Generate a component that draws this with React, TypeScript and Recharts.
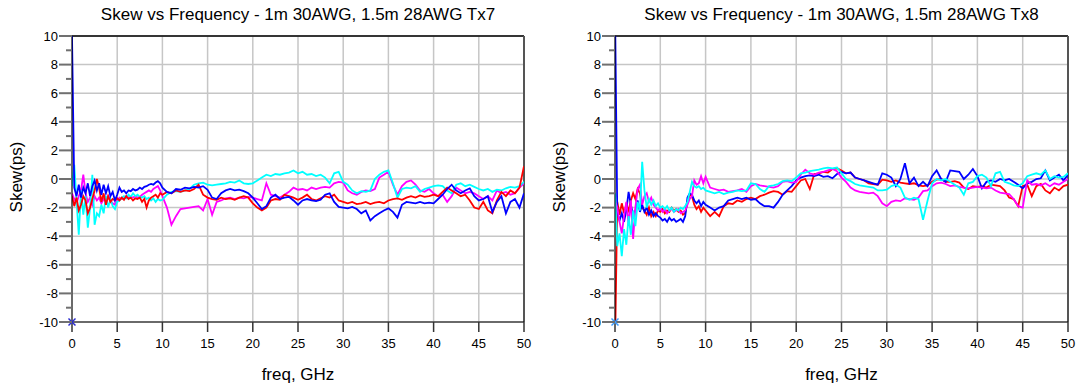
import React from 'react';
import {
  LineChart,
  Line,
  XAxis,
  YAxis,
  CartesianGrid,
  ReferenceLine,
  ReferenceDot,
} from 'recharts';

// frequency points (GHz): 0.25 GHz steps up to 10, then 0.5 GHz steps to 50
const FREQ: number[] = [];
for (let i = 0; i <= 40; i++) FREQ.push(i * 0.25);
for (let i = 1; i <= 80; i++) FREQ.push(10 + i * 0.5);

const X_TICKS = [0, 5, 10, 15, 20, 25, 30, 35, 40, 45, 50];
const Y_GRID = [-10, -8, -6, -4, -2, 0, 2, 4, 6, 8, 10];
const Y_TICKS = [-10, -9, -8, -7, -6, -5, -4, -3, -2, -1, 0, 1, 2, 3, 4, 5, 6, 7, 8, 9, 10];

// ---- Tx7 ----
const RED_TX7 = [
  -1.2, -1.9, -1.3, -2.2, -1.8, -1.2, -1.5, -2.4, -2.0, -1.4,
  -0.8, 0.0, -0.6, -1.6, -1.0, -1.8, -1.2, -1.6, -1.4, -1.5,
  -1.35, -1.5, -1.3, -1.45, -1.2, -1.4, -1.3, -1.5, -1.35, -1.4,
  -1.3, -1.6, -1.4, -2.0, -1.5, -1.3, -1.2, -1.1, -1.3, -1.0,
  -1.1,
  -0.9, -1.0, -0.8, -0.9, -0.8, -0.85, -0.7, -0.4, -1.1, -1.3,
  -1.4, -1.45, -1.3, -1.4, -1.35, -1.45, -1.3, -1.2, -1.3, -1.7,
  -2.0, -2.2, -2.0, -1.5, -1.4, -1.45, -1.1, -1.2, -1.3, -1.45,
  -1.3, -1.1, -1.4, -1.5, -1.35, -1.2, -1.3, -1.1, -1.5, -1.6,
  -1.7, -1.6, -1.75, -1.7, -1.6, -1.75, -1.65, -1.6, -1.7, -1.5,
  -1.4, -1.35, -1.45, -1.3, -1.2, -1.3, -1.15, -1.25, -1.2, -1.1,
  -1.2, -0.9, -0.6, -0.8, -1.0, -1.2, -1.1, -1.5, -2.0, -2.1,
  -1.6, -2.2, -2.4, -1.5, -0.9, -1.2, -0.8, -1.0, -0.6, 0.9,
];
const BLUE_TX7 = [
  10, -0.6, -1.2, -0.4, -1.3, -0.6, -1.0, -0.3, -1.2, -0.5,
  -0.1, -0.8, -0.3, -1.1, -0.4, -1.0, -0.5, -1.2, -0.9, -1.5,
  -1.1, -0.6, -0.9, -0.8, -1.0, -0.8, -0.85, -0.7, -0.8, -0.75,
  -0.6, -0.7, -0.55, -0.5, -0.4, -0.35, -0.4, -0.25, -0.15, -0.3,
  -0.6,
  -0.9, -1.0, -0.7, -0.75, -0.6, -0.65, -0.55, -0.6, -0.5, -0.75,
  -1.3, -1.4, -1.0, -0.8, -0.7, -0.8, -0.75, -0.85, -1.0, -1.3,
  -1.7, -2.1, -1.9, -1.3, -1.1, -1.4, -1.3, -1.25, -1.5, -1.8,
  -1.5, -1.4, -1.5, -1.55, -1.45, -1.1, -1.0, -1.6, -1.95, -2.0,
  -2.05, -1.95, -2.1, -2.4, -2.2, -2.9, -2.6, -2.4, -2.2, -2.05,
  -2.3, -2.7, -1.8, -1.6, -1.65, -1.7, -1.6, -1.7, -1.65, -1.7,
  -1.4, -1.1, -0.7, -0.4, -0.8, -1.0, -0.8, -0.65, -1.2, -1.5,
  -1.4, -1.2, -2.3, -1.6, -1.2, -2.4, -1.6, -1.4, -2.0, -1.0,
];
const MAGENTA_TX7 = [
  -1.0, -1.4, -1.7, -1.2, -0.8, 0.3, -1.0, -1.6, -1.3, -1.8,
  -1.2, -1.5, -1.3, -1.7, -1.4, -1.6, -1.2, -1.5, -1.7, -1.8,
  -1.5, -1.3, -1.4, -1.35, -1.2, -1.3, -1.25, -1.3, -1.2, -1.3,
  -1.25, -1.1, -1.0, -0.9, -0.8, -0.9, -0.7, -0.6, -0.5, -0.8,
  -1.2,
  -2.0, -3.2, -2.6, -2.1, -2.05, -2.0, -1.95, -1.9, -2.2, -1.4,
  -2.5, -1.6, -1.5, -1.35, -1.3, -1.4, -1.3, -1.35, -1.25, -1.3,
  -1.4, -1.5, -0.3, -1.1, -1.2, -1.3, -1.1, -0.9, -0.6, -0.75,
  -0.7, -0.8, -0.6, -0.7, -0.6, -0.55, -0.6, -0.3, -0.2, -0.25,
  -0.8, -1.0, -1.1, -0.9, -0.8, -0.85, -0.7, 0.1, 0.3, 0.5,
  -0.4, -1.1, -0.5, -0.2, -0.1, -0.4, -0.8, -0.9, -0.7, -1.0,
  -1.2, -1.1, -1.6, -1.2, -0.6, -0.8, -1.0, -0.9, -1.0, -1.2,
  -1.4, -1.2, -1.5, -0.8, -1.0, -0.9, -1.1, -1.0, -0.6, -0.3,
];
const CYAN_TX7 = [
  -0.5, 1.0, -1.5, -3.9, -0.8, -2.5, -1.2, -3.4, -2.0, 0.3,
  -3.2, -2.4, -2.6, -1.8, -2.4, -1.2, -2.0, -1.4, -1.9, -2.1,
  -1.6, -1.5, -1.3, -1.2, -1.35, -1.1, -1.25, -1.0, -1.2, -1.1,
  -1.25, -1.3, -1.2, -1.4, -1.3, -1.5, -1.35, -1.6, -1.4, -1.5,
  -1.45,
  -1.1, -0.9, -0.85, -0.9, -0.8, -0.7, -0.4, -0.3, -0.25, -0.4,
  -0.45, -0.4, -0.35, -0.3, -0.2, -0.25, -0.1, -0.3, -0.35, -0.3,
  -0.1, 0.1, 0.3, 0.2, 0.35, 0.3, 0.4, 0.45, 0.6, 0.4,
  0.5, 0.3, 0.35, 0.2, 0.3, 0.1, -0.3, 0.4, 0.5, -0.2,
  -0.4, -0.8, -1.0, -0.85, -0.9, -0.8, 0.0, 0.3, 0.5, 0.6,
  -0.3, -1.3, -0.7, -0.6, -0.65, -0.5, -0.9, -0.7, -0.6, -0.5,
  -0.45, -0.5, -0.8, -1.0, -0.4, -0.3, -0.5, -0.4, -0.55, -0.7,
  -0.8, -0.7, -0.9, -0.75, -0.8, -0.65, -0.55, -0.6, -0.5, -0.2,
];

// ---- Tx8 ----
const RED_TX8 = [
  -12, -1.6, -2.5, -1.7, -2.4, -1.8, -2.2, -1.5, -1.0, -1.4,
  -0.7, -1.0, -2.0, -2.2, -2.5, -2.0, -2.6, -2.3, -2.6, -2.2,
  -2.3, -2.1, -2.4, -2.2, -2.3, -2.0, -2.2, -2.1, -2.3, -2.2,
  -2.5, -2.4, -1.6, -1.1, -1.2, -1.8, -2.1, -1.9, -2.3, -2.0,
  -2.2,
  -2.6, -2.3, -2.6, -1.9, -1.7, -1.75, -1.5, -1.6, -1.4, -1.3,
  -1.4, -1.2, -1.1, -0.95, -0.85, -0.9, -1.1, -0.85, -0.9, -0.5,
  -0.1, 0.0, -0.7, 0.35, 0.4, 0.5, 0.45, 0.7, 0.75, 0.6,
  0.4, 0.45, 0.1, 0.0, -0.1, -0.3, -0.35, -0.4, -0.05, -0.1,
  -0.2, -0.1, -0.25, -0.3, -0.35, -0.3, -0.45, -0.5, -0.45, -0.2,
  -0.05, 0.0, -0.2, -0.2, -0.15, -0.25, -0.6, -0.7, -0.5, -0.55,
  -0.5, -0.6, -0.4, -0.45, -0.5, -0.8, -1.3, -1.4, -1.9, -0.5,
  -0.4, -1.2, -0.5, -0.35, -0.8, -1.0, -0.6, -0.8, -0.5, -0.4,
];
const BLUE_TX8 = [
  12, -2.3, -2.9, -2.4, -3.0, -2.2, -0.9, -1.8, -2.5, -2.2,
  -1.5, -2.3, -1.8, -2.3, -2.0, -2.5, -2.2, -2.6, -2.4, -2.6,
  -2.7, -2.9, -2.8, -3.0, -2.7, -2.9, -2.8, -3.0, -2.9, -2.8,
  -3.0, -2.6, -1.3, -1.0, -1.1, -1.5, -1.7, -1.5, -1.9, -1.6,
  -1.8,
  -2.0, -2.2, -2.0, -1.9, -1.5, -1.4, -1.3, -1.4, -1.3, -1.45,
  -1.4, -1.7, -1.9, -1.9, -2.0, -1.6, -1.1, -0.8, -0.5, -0.1,
  0.1, 0.2, 0.25, 0.2, 0.3, 0.15, 0.2, 0.05, 0.35, 0.5,
  0.4, 0.45, 0.1, 0.0, -0.1, -0.2, -0.3, -0.4, 0.4, 0.3,
  0.1, -0.5, 0.0, 1.1, -0.3, 0.1, -0.5, -0.2, -0.5, 0.2,
  0.6, 0.0, -0.2, 0.6, 0.55, 0.5, 0.0, 0.3, 0.7, 0.2,
  -0.65, -0.2, -0.1, -0.2, 0.0, -0.1, 0.0, -0.2, -0.4, -0.65,
  -0.3, -0.2, 0.0, 0.05, 0.6, -0.1, 0.1, 0.3, -0.1, 0.3,
];
const MAGENTA_TX8 = [
  -1.5, -2.0, -3.0, -3.8, -2.6, -1.6, -3.2, -1.5, -4.2, -2.0,
  -0.7, -0.4, -1.8, -1.2, -1.0, -1.6, -1.3, -1.8, -2.0, -2.2,
  -2.0, -2.3, -2.1, -2.4, -2.2, -2.1, -2.3, -2.2, -2.1, -2.4,
  -2.3, -2.2, -1.8, -1.4, -1.2, -0.1, -0.4, -0.3, 0.2, -0.3,
  0.15,
  -0.6, -0.7, -0.8, -0.75, -0.9, -0.85, -0.8, -0.7, -0.9, -0.5,
  -0.35, -0.45, -0.5, -0.55, -0.6, -0.5, -0.2, -0.15, -0.25, -0.2,
  0.3, 0.65, 0.4, 0.3, 0.45, 0.5, 0.6, 0.7, 0.55, 0.1,
  -0.2, -0.6, -0.8, -0.9, -0.95, -1.0, -0.95, -1.2, -1.7, -1.9,
  -1.6, -1.5, -1.55, -1.35, -1.4, -1.45, -1.3, -0.85, -0.8, -0.5,
  -0.3, -0.25, -0.35, -0.5, -0.45, -0.55, -0.6, -0.65, -0.6, -0.55,
  -0.6, -0.65, -0.6, -0.8, -0.95, -1.0, -1.05, -1.4, -1.9, -2.0,
  -0.1, -0.4, -0.35, -0.45, -0.3, -0.5, -0.3, -0.4, -0.2, 0.0,
];
const CYAN_TX8 = [
  -1.0, -4.7, -3.8, -5.4, -3.5, -4.6, -2.6, -3.9, -2.2, -3.3,
  -1.6, -2.2, 1.2, -0.8, -2.0, -1.4, -1.8, -1.5, -1.9, -1.7,
  -2.0, -1.9, -2.1, -1.9, -2.2, -2.0, -2.3, -2.1, -2.2, -2.0,
  -2.1, -1.9, -1.6, -0.9, -0.2, -0.5, -0.6, -0.5, -0.7, -0.6,
  -0.8,
  -0.9, -1.0, -0.9, -1.05, -0.95, -0.9, -0.8, -0.85, -0.8, -0.3,
  -0.35, -0.7, -0.9, -0.5, -0.45, -0.35, -0.15, -0.1, -0.15, 0.1,
  0.4, 0.45, 0.55, 0.6, 0.65, 0.75, 0.8, 0.75, 0.8, 0.4,
  0.0, -0.15, -0.35, -0.45, -0.5, -0.55, -0.6, -0.8, -0.8, -0.75,
  -0.5, -0.4, -0.6, -1.3, -1.45, -1.3, -1.4, -2.85, -1.5, -0.3,
  0.0, -0.1, 0.0, -0.2, -0.4, -0.6, -1.1, -0.3, -0.2, 0.2,
  0.3, 0.1, -0.5, 0.4, 0.5, -0.2, -0.3, -0.45, -0.5, -0.3,
  0.2, 0.3, 0.4, 0.3, 0.6, 0.0, 0.2, 0.1, 0.15, 0.4,
];

const FONT = 'Arial, "Liberation Sans", sans-serif';

const buildRows = (red: number[], blue: number[], magenta: number[], cyan: number[]) =>
  FREQ.map((f, i) => ({ f, red: red[i], blue: blue[i], magenta: magenta[i], cyan: cyan[i] }));

// major ticks at even values carry a label, odd values get a short minor tick
function YTick(props: any) {
  const { x, y, payload } = props;
  const major = payload.value % 2 === 0;
  return (
    <g>
      <line x1={x - (major ? 13 : 6)} x2={x} y1={y} y2={y} stroke="#707070" strokeWidth={2} />
      {major && (
        <text x={x - 14} y={y} dy="0.36em" textAnchor="end" fontSize={13} fill="#000" fontFamily={FONT}>
          {payload.value}
        </text>
      )}
    </g>
  );
}

const crossMark = (color: string) => (p: any) => (
  <g stroke={color} strokeWidth={1.5}>
    <line x1={p.cx - 3.5} y1={p.cy - 3.5} x2={p.cx + 3.5} y2={p.cy + 3.5} />
    <line x1={p.cx - 3.5} y1={p.cy + 3.5} x2={p.cx + 3.5} y2={p.cy - 3.5} />
  </g>
);

interface PanelProps {
  left: number;
  axisWidth: number;
  rightMargin: number;
  title: string;
  rows: ReturnType<typeof buildRows>;
  order: ('red' | 'blue' | 'magenta' | 'cyan')[];
  markColor: string;
}

const COLORS = { red: '#ff0000', blue: '#0000ff', magenta: '#ff00ff', cyan: '#00ffff' };

function SkewPanel({ left, axisWidth, rightMargin, title, rows, order, markColor }: PanelProps) {
  const plotLeft = axisWidth;
  const plotRight = 540 - rightMargin;
  const cx = (plotLeft + plotRight) / 2;
  return (
    <div style={{ position: 'absolute', left, top: 0, width: 540, height: 389 }}>
      <LineChart width={540} height={389} data={rows} margin={{ top: 36, right: rightMargin, bottom: 37, left: 0 }}>
        <CartesianGrid
          stroke="#c6c6c6"
          strokeWidth={1.5}
          horizontalValues={Y_GRID}
          verticalValues={X_TICKS}
        />
        <XAxis
          dataKey="f"
          type="number"
          domain={[0, 50]}
          ticks={X_TICKS}
          interval={0}
          allowDataOverflow
          height={30}
          tickSize={10}
          tickMargin={7}
          stroke="#000"
          tickLine={{ stroke: '#333', strokeWidth: 1.5 }}
          tick={{ fontSize: 13, fill: '#000', fontFamily: FONT }}
        />
        <YAxis
          type="number"
          domain={[-10, 10]}
          ticks={Y_TICKS}
          interval={0}
          allowDataOverflow
          width={axisWidth}
          tickSize={0}
          tickMargin={0}
          tickLine={false}
          stroke="#000"
          tick={<YTick />}
        />
        <ReferenceLine y={10} stroke="#000" strokeWidth={1.5} />
        <ReferenceLine x={50} stroke="#555" strokeWidth={2} />
        {order.map((key) => (
          <Line
            key={key}
            type="linear"
            dataKey={key}
            stroke={COLORS[key]}
            strokeWidth={1.8}
            dot={false}
            isAnimationActive={false}
          />
        ))}
        <ReferenceDot x={0} y={-10} r={4} shape={crossMark(markColor)} />
      </LineChart>
      <svg width={540} height={389} style={{ position: 'absolute', left: 0, top: 0, pointerEvents: 'none' }}>
        <text x={cx} y={20} textAnchor="middle" fontSize={17} fontFamily={FONT} fill="#000">
          {title}
        </text>
        <text
          transform={`translate(${plotLeft - 50}, 177) rotate(-90)`}
          textAnchor="middle"
          fontSize={17}
          fontFamily={FONT}
          fill="#000"
        >
          Skew(ps)
        </text>
        <text x={cx} y={380} textAnchor="middle" fontSize={17} fontFamily={FONT} fill="#000">
          freq, GHz
        </text>
      </svg>
    </div>
  );
}

export default function App() {
  const tx7 = buildRows(RED_TX7, BLUE_TX7, MAGENTA_TX7, CYAN_TX7);
  const tx8 = buildRows(RED_TX8, BLUE_TX8, MAGENTA_TX8, CYAN_TX8);
  return (
    <div style={{ position: 'absolute', left: 0, top: 0, width: 1080, height: 389, background: '#fff' }}>
      <SkewPanel
        left={0}
        axisWidth={72}
        rightMargin={16}
        title="Skew vs Frequency - 1m 30AWG, 1.5m 28AWG Tx7"
        rows={tx7}
        order={['magenta', 'cyan', 'red', 'blue']}
        markColor="#2a2ad0"
      />
      <SkewPanel
        left={540}
        axisWidth={75}
        rightMargin={12}
        title="Skew vs Frequency - 1m 30AWG, 1.5m 28AWG Tx8"
        rows={tx8}
        order={['red', 'blue', 'magenta', 'cyan']}
        markColor="#3a9cff"
      />
    </div>
  );
}
